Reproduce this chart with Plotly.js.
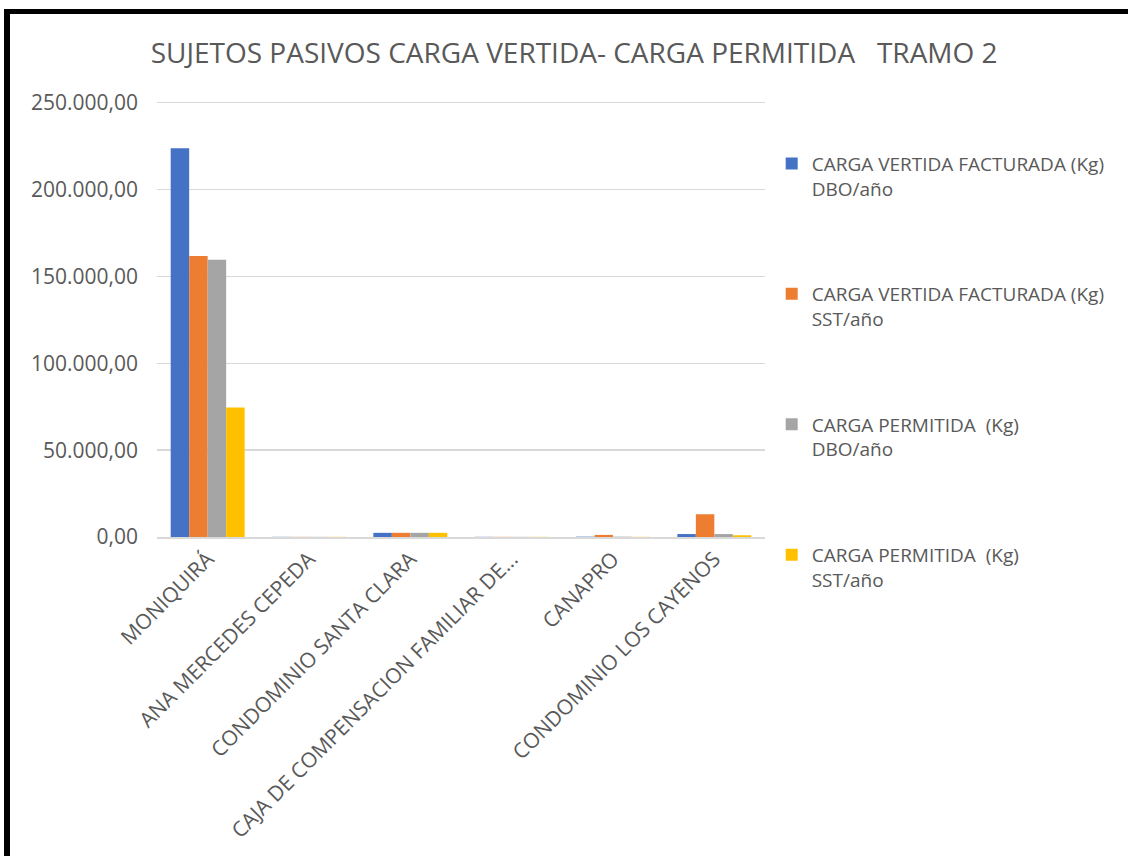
<!DOCTYPE html>
<html>
<head>
<meta charset="utf-8">
<script src="https://cdn.plot.ly/plotly-3.0.1.min.js"></script>
<style>
  html, body { margin: 0; padding: 0; background: #ffffff; }
  #frame { position: absolute; left: 4px; top: 9px; width: 1124px; height: 847px;
           border-left: 6px solid #000; border-top: 5px solid #000; box-sizing: border-box; }
  #chart { position: absolute; left: 0; top: 0; width: 1128px; height: 856px; }
</style>
</head>
<body>
<div id="frame"></div>
<div id="chart"></div>
<script>
const categories = ["MONIQUIRÁ", "ANA MERCEDES CEPEDA", "CONDOMINIO SANTA CLARA",
  "CAJA DE COMPENSACION FAMILIAR DE...", "CANAPRO", "CONDOMINIO LOS CAYENOS"];
const seriesNames = ["CARGA VERTIDA FACTURADA (Kg)<br>DBO/año",
  "CARGA VERTIDA FACTURADA (Kg)<br>SST/año",
  "CARGA PERMITIDA  (Kg)<br>DBO/año",
  "CARGA PERMITIDA  (Kg)<br>SST/año"];
const cargaVertidaDBO = [223800, 100, 2400, 100, 200, 1700];
const cargaVertidaSST = [161700, 100, 2400, 100, 1200, 13100];
const cargaPermitidaDBO = [159600, 100, 2400, 100, 200, 1700];
const cargaPermitidaSST = [74500, 100, 2400, 100, 100, 1000];
const tickValues = [0, 50000, 100000, 150000, 200000, 250000];
const tickLabels = ["0,00", "50.000,00", "100.000,00", "150.000,00", "200.000,00", "250.000,00"];
const colors = ["#4472C4", "#ED7D31", "#A5A5A5", "#FFC000"];

const allSeries = [cargaVertidaDBO, cargaVertidaSST, cargaPermitidaDBO, cargaPermitidaSST];
const FONT = "Open Sans, sans-serif";
const data = allSeries.map((vals, i) => ({
  type: "bar",
  x: categories,
  y: vals,
  name: seriesNames[i],
  legendgroup: "g" + i,
  marker: { color: colors[i] },
  hoverinfo: "x+y"
}));

const layout = {
  width: 1128, height: 856,
  margin: { l: 157, r: 363, t: 101, b: 319 },
  paper_bgcolor: "rgba(0,0,0,0)",
  plot_bgcolor: "rgba(0,0,0,0)",
  title: { text: "SUJETOS PASIVOS CARGA VERTIDA- CARGA PERMITIDA   TRAMO 2",
    font: { family: FONT, size: 28, color: "#595959" },
    x: 0.509, xanchor: "center", y: 0.938, yanchor: "middle" },
  barmode: "group",
  bargap: 0.27,
  bargroupgap: 0,
  xaxis: {
    type: "category",
    tickangle: -45,
    tickfont: { family: FONT, size: 21, color: "#595959" },
    showgrid: false,
    showline: true, linecolor: "#D9D9D9", linewidth: 1.5,
    ticks: "",
    fixedrange: true
  },
  yaxis: {
    range: [0, 251000],
    tickvals: tickValues,
    ticktext: tickLabels,
    tickfont: { family: FONT, size: 21, color: "#595959" },
    showgrid: true, gridcolor: "#D9D9D9", gridwidth: 1.5,
    zeroline: false,
    showline: false,
    ticks: "",
    ticklabelstandoff: 18,
    fixedrange: true
  },
  showlegend: true,
  legend: {
    x: 1.011, xanchor: "left", y: 0.9, yanchor: "top",
    font: { family: FONT, size: 19, color: "#595959" },
    tracegroupgap: 78,
    valign: "top",
    maxheight: 700,
    itemclick: false, itemdoubleclick: false
  }
};

Plotly.newPlot("chart", data, layout, { displayModeBar: false, staticPlot: true });
</script>
</body>
</html>
